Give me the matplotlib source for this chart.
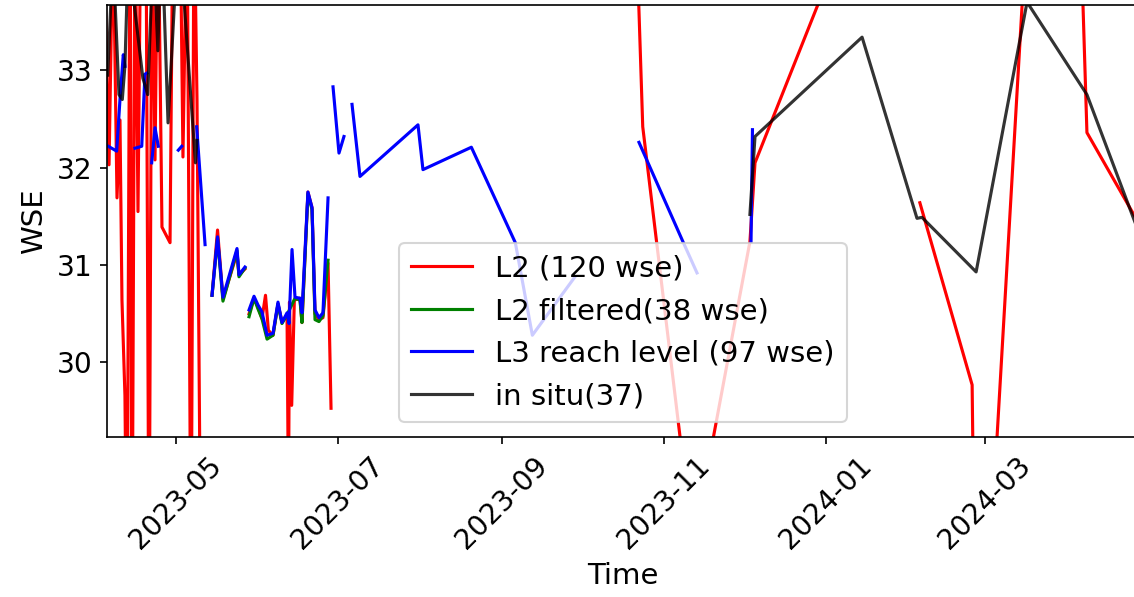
import numpy as np
import pandas as pd
import matplotlib
matplotlib.use('Agg')
import matplotlib.pyplot as plt

nan = np.nan

# L2 node heights (red), gaps marked with nan
l2_dates = ['2023-04-03 11:00', '2023-04-05 18:00', '2023-04-07 06:00', '2023-04-08 18:00',
            '2023-04-09 21:00', '2023-04-10 15:00', '2023-04-11 18:00', '2023-04-12 12:00',
            '2023-04-13 16:00', '2023-04-14 10:00', '2023-04-15 13:00', '2023-04-16 16:00',
            '2023-04-17 19:00', '2023-04-19 17:00', '2023-04-20 20:00', '2023-04-21 23:00',
            '2023-04-23 02:00', '2023-04-24 05:00', '2023-04-25 17:00', '2023-04-28 18:00',
            '2023-04-29 21:00', '2023-05-02 12:00', '2023-05-03 15:00', '2023-05-05 04:00',
            '2023-05-06 16:00', '2023-05-07 19:00', '2023-05-08 22:00', '2023-05-10 10:00',
            '2023-05-12 12:00',
            '2023-05-14 14:00', '2023-05-16 16:00', '2023-05-18 17:00', '2023-05-24 00:00',
            '2023-05-24 18:00', '2023-05-27 00:00', '2023-05-27 12:00',
            '2023-05-28 13:00', '2023-05-30 10:00', '2023-05-31 22:00', '2023-06-02 10:00',
            '2023-06-03 18:00', '2023-06-04 20:00', '2023-06-06 14:00', '2023-06-08 11:00',
            '2023-06-09 23:00', '2023-06-11 21:00', '2023-06-12 10:00', '2023-06-12 19:00',
            '2023-06-13 15:00', '2023-06-14 15:00', '2023-06-16 18:00', '2023-06-17 12:00',
            '2023-06-19 18:00', '2023-06-21 07:00', '2023-06-22 10:00', '2023-06-23 22:00',
            '2023-06-25 10:00', '2023-06-27 08:00', '2023-06-28 11:00',
            '2023-07-15 00:00',
            '2023-10-21 00:00', '2023-10-24 00:00', '2023-11-12 00:00', '2023-12-03 10:00',
            '2023-12-05 08:00', '2024-01-05 00:00',
            '2024-01-20 00:00',
            '2024-02-05 12:00', '2024-02-25 05:00', '2024-02-27 00:00', '2024-03-20 00:00',
            '2024-04-06 00:00', '2024-04-08 12:00', '2024-04-25 22:00', '2024-04-30 00:00']
l2_wse = [34.8, 32.03, 34.5, 31.69,
          32.49, 30.64, 29.66, 27.5,
          34.8, 27.5, 34.8, 31.55,
          34.8, 34.5, 27.5, 34.8,
          32.08, 34.8, 31.39, 31.23,
          34.8, 34.8, 32.11, 34.8,
          27.5, 34.8, 32.70, 27.5,
          nan,
          30.69, 31.36, 30.65, 31.12,
          30.90, 30.96, nan,
          30.50, 30.66, 30.57, 30.45,
          30.69, 30.33, 30.28, 30.60,
          30.42, 30.48, 28.5, 30.62,
          29.56, 30.64, 30.66, 30.41,
          31.75, 31.59, 30.50, 30.44,
          30.46, 31.02, 29.53,
          nan,
          34.93, 32.42, 28.12, 31.24,
          32.05, 34.15,
          nan,
          31.64, 29.77, 25.67, 35.99,
          34.56, 32.36, 31.53, 31.34]

# L2 filtered (green)
l2f_dates = ['2023-05-14 14:00', '2023-05-16 16:00', '2023-05-18 17:00', '2023-05-24 00:00',
             '2023-05-24 18:00', '2023-05-27 00:00', '2023-05-27 12:00',
             '2023-05-28 13:00', '2023-05-30 10:00', '2023-05-31 22:00', '2023-06-02 10:00',
             '2023-06-04 08:00', '2023-06-06 14:00', '2023-06-08 11:00', '2023-06-09 23:00',
             '2023-06-11 21:00', '2023-06-14 21:00', '2023-06-16 18:00', '2023-06-17 12:00',
             '2023-06-19 18:00', '2023-06-21 07:00', '2023-06-22 10:00', '2023-06-23 22:00',
             '2023-06-25 10:00', '2023-06-27 08:00']
l2f_wse = [30.69, 31.27, 30.63, 31.15,
           30.88, 30.97, nan,
           30.47, 30.66, 30.55, 30.45,
           30.24, 30.28, 30.60, 30.40,
           30.49, 30.66, 30.64, 30.41,
           31.73, 31.57, 30.44, 30.42,
           30.48, 31.05]

# L3 reach level (blue)
l3_dates = ['2023-04-05 11:00', '2023-04-08 15:00', '2023-04-09 21:00', '2023-04-11 03:00',
            '2023-04-11 18:00', '2023-04-13 12:00',
            '2023-04-15 13:00', '2023-04-18 02:00', '2023-04-19 07:00', '2023-04-19 23:00',
            '2023-04-20 20:00',
            '2023-04-21 20:00', '2023-04-23 02:00', '2023-04-24 08:00', '2023-04-28 00:00',
            '2023-05-01 21:00', '2023-05-03 04:00', '2023-05-06 00:00',
            '2023-05-08 19:00', '2023-05-11 23:00', '2023-05-13 00:00',
            '2023-05-14 14:00', '2023-05-16 16:00', '2023-05-18 17:00', '2023-05-24 00:00',
            '2023-05-24 18:00', '2023-05-27 00:00', '2023-05-27 12:00',
            '2023-05-28 13:00', '2023-05-30 10:00', '2023-05-31 22:00', '2023-06-02 10:00',
            '2023-06-04 08:00', '2023-06-06 14:00', '2023-06-08 11:00', '2023-06-09 23:00',
            '2023-06-11 21:00', '2023-06-12 15:00', '2023-06-13 18:00', '2023-06-14 21:00',
            '2023-06-16 18:00', '2023-06-17 12:00', '2023-06-19 18:00', '2023-06-21 07:00',
            '2023-06-22 10:00', '2023-06-23 22:00', '2023-06-25 10:00', '2023-06-27 08:00',
            '2023-06-28 00:00',
            '2023-06-29 05:00', '2023-07-01 11:00', '2023-07-03 08:00', '2023-07-04 12:00',
            '2023-07-06 09:00', '2023-07-09 09:00', '2023-07-31 06:00', '2023-08-02 03:00',
            '2023-08-20 09:00', '2023-09-05 23:00', '2023-09-12 09:00', '2023-09-28 11:00',
            '2023-10-10 00:00',
            '2023-10-22 14:00', '2023-11-08 04:00', '2023-11-13 11:00', '2023-11-20 00:00',
            '2023-12-03 20:00', '2023-12-04 09:00']
l3_wse = [32.22, 32.17, 32.70, 33.16,
          33.04, nan,
          32.20, 32.22, 32.96, 32.97,
          nan,
          32.05, 32.41, 32.22, nan,
          32.18, 32.22, nan,
          32.42, 31.21, nan,
          30.69, 31.29, 30.67, 31.17,
          30.90, 30.98, nan,
          30.54, 30.68, 30.59, 30.52,
          30.28, 30.30, 30.62, 30.41,
          30.51, 30.40, 31.16, 30.67,
          30.66, 30.51, 31.75, 31.59,
          30.54, 30.46, 30.51, 31.69,
          nan,
          32.83, 32.15, 32.32, nan,
          32.65, 31.91, 32.44, 31.98,
          32.21, 31.23, 30.28, 30.88,
          nan,
          32.26, 31.24, 30.92, nan,
          31.24, 32.39]

# in situ gauge (black)
insitu_dates = ['2023-04-05 06:00', '2023-04-07 06:00', '2023-04-09 12:00', '2023-04-10 18:00',
                '2023-04-11 18:00', '2023-04-13 00:00', '2023-04-18 12:00', '2023-04-20 08:00',
                '2023-04-22 12:00', '2023-04-24 04:00', '2023-04-25 12:00', '2023-04-28 00:00',
                '2023-05-02 00:00', '2023-05-08 08:00', '2023-05-08 22:00',
                '2023-06-01 00:00',
                '2023-12-03 10:00', '2023-12-05 08:00', '2024-01-14 17:00', '2024-02-04 10:00',
                '2024-02-06 07:00', '2024-02-26 17:00', '2024-03-16 22:00', '2024-04-08 12:00',
                '2024-04-25 22:00', '2024-04-30 00:00']
insitu_wse = [32.95, 34.2, 32.75, 32.70,
              33.05, 34.2, 32.92, 32.75,
              34.3, 33.20, 34.5, 32.46,
              34.5, 32.05, 32.28,
              nan,
              31.52, 32.32, 33.34, 31.48,
              31.49, 30.93, 33.70, 32.75,
              31.49, 31.20]

plt.rcParams['font.size'] = 14

fig = plt.figure(figsize=(7.56, 3.98), dpi=150)
ax = fig.add_axes([0.0944, 0.2688, 0.9097, 0.7228])

ax.plot(pd.to_datetime(l2_dates), l2_wse, color='red', label='L2 (120 wse)')
ax.plot(pd.to_datetime(l2f_dates), l2f_wse, color='green', label='L2 filtered(38 wse)')
ax.plot(pd.to_datetime(l3_dates), l3_wse, color='blue', label='L3 reach level (97 wse)')
ax.plot(pd.to_datetime(insitu_dates), insitu_wse, color='black', alpha=0.8, label='in situ(37)')

ax.set_xlim(pd.Timestamp('2023-04-05'), pd.Timestamp('2024-04-28'))
ax.set_ylim(29.24, 33.67)
ax.set_xlabel('Time')
ax.set_ylabel('WSE')
ax.tick_params(labelsize=13.5)
plt.setp(ax.get_xticklabels(), rotation=45)
ax.legend(loc='lower center', handlelength=2.1)

fig.savefig('out.png', dpi=150)
